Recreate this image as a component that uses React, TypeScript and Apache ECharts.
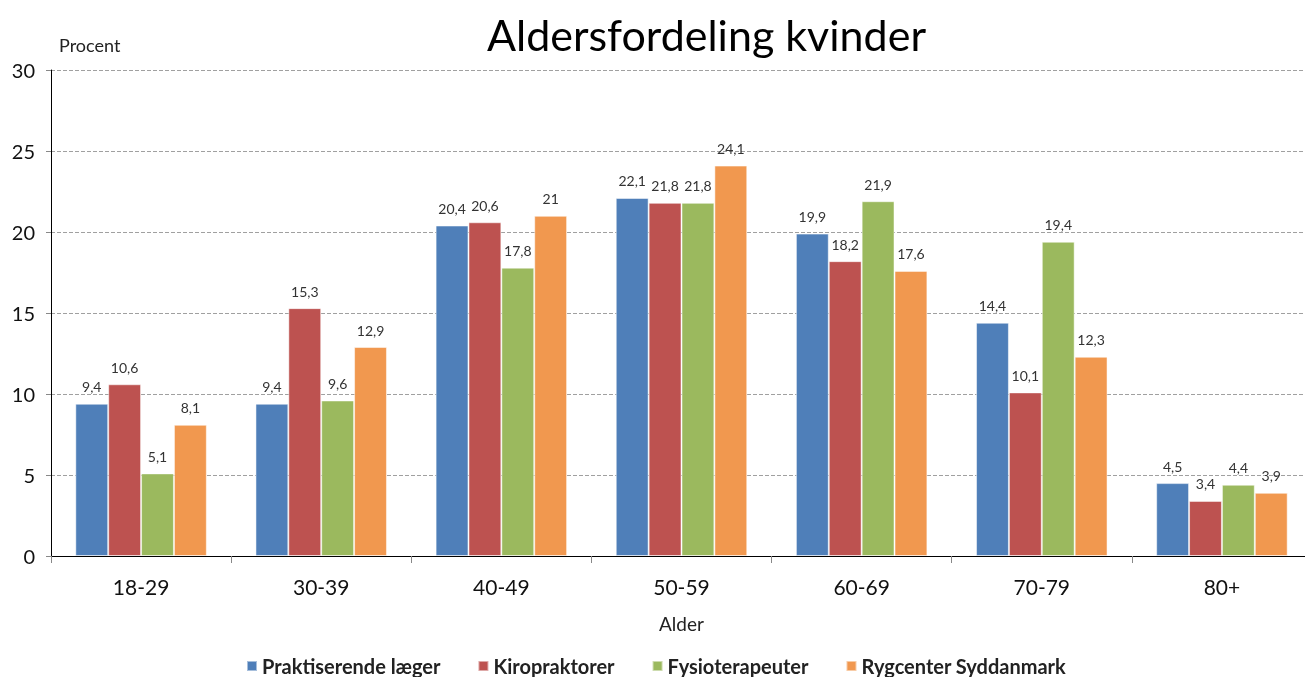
import React, { useEffect, useRef } from "react";
import * as echarts from "echarts";

const categories = ["18-29", "30-39", "40-49", "50-59", "60-69", "70-79", "80+"];
const seriesNames = ["Praktiserende læger", "Kiropraktorer", "Fysioterapeuter", "Rygcenter Syddanmark"];
const praktiserende = [9.4, 9.4, 20.4, 22.1, 19.9, 14.4, 4.5];
const kiropraktorer = [10.6, 15.3, 20.6, 21.8, 18.2, 10.1, 3.4];
const fysioterapeuter = [5.1, 9.6, 17.8, 21.8, 21.9, 19.4, 4.4];
const rygcenter = [8.1, 12.9, 21, 24.1, 17.6, 12.3, 3.9];
const colors = ["#4F7FB9", "#BD5250", "#9BB95E", "#F1984F"];

const FONT = "Lato, 'Open Sans', sans-serif";

export default function App() {
  const ref = useRef<HTMLDivElement>(null);
  useEffect(() => {
    if (!ref.current) return;
    const chart = echarts.init(ref.current, null, { renderer: "svg" });
    const data = [praktiserende, kiropraktorer, fysioterapeuter, rygcenter];
    chart.setOption({
      animation: false,
      textStyle: { fontFamily: FONT },
      title: {
        text: "Aldersfordeling kvinder",
        left: 482,
        top: 8,
        textStyle: { fontSize: 43, fontWeight: "normal", color: "#000", fontFamily: FONT },
      },
      legend: {
        top: 651,
        left: 241,
        icon: "rect",
        itemWidth: 10,
        itemHeight: 10,
        itemGap: 37,
        textStyle: { fontSize: 20, fontWeight: "bold", color: "#222", fontFamily: FONT },
        data: seriesNames,
      },
      grid: { left: 51, top: 70, right: -7, height: 486, containLabel: false, outerBoundsMode: "none" },
      xAxis: {
        type: "category",
        data: categories,
        name: "Alder",
        nameLocation: "middle",
        nameGap: 58,
        nameTextStyle: { fontSize: 19, color: "#222", fontFamily: FONT },
        axisLine: { lineStyle: { color: "#000", width: 1 } },
        axisTick: { show: true, alignWithLabel: false, length: 7, lineStyle: { color: "#888" } },
        axisLabel: { fontSize: 21, color: "#111", margin: 20, fontFamily: FONT },
      },
      yAxis: {
        type: "value",
        min: 0,
        max: 30,
        interval: 5,
        name: "Procent",
        nameLocation: "end",
        nameGap: 16,
        nameTextStyle: { fontSize: 18, color: "#222", align: "left", padding: [0, 0, 0, 8], fontFamily: FONT },
        axisLine: { show: true, lineStyle: { color: "#000", width: 1 } },
        axisTick: { show: true, length: 5, lineStyle: { color: "#888" } },
        axisLabel: { fontSize: 20, color: "#111", margin: 16, fontFamily: FONT },
        splitLine: { show: true, lineStyle: { color: "#A0A0A0", type: [4, 2] } },
      },
      series: seriesNames.map((name, i) => ({
        name,
        type: "bar",
        data: data[i],
        barGap: "0%",
        barCategoryGap: "27%",
        itemStyle: { color: colors[i], borderColor: "rgba(255,255,255,0.5)", borderWidth: 1 },
        label: {
          show: true,
          position: "top",
          distance: 10,
          fontSize: 14,
          color: "#333",
          fontFamily: FONT,
          formatter: (p: any) => String(p.value).replace(".", ","),
        },
      })),
    });
    return () => chart.dispose();
  }, []);
  return <div ref={ref} style={{ position: "fixed", left: 0, top: 0, width: 1305, height: 677 }} />;
}
